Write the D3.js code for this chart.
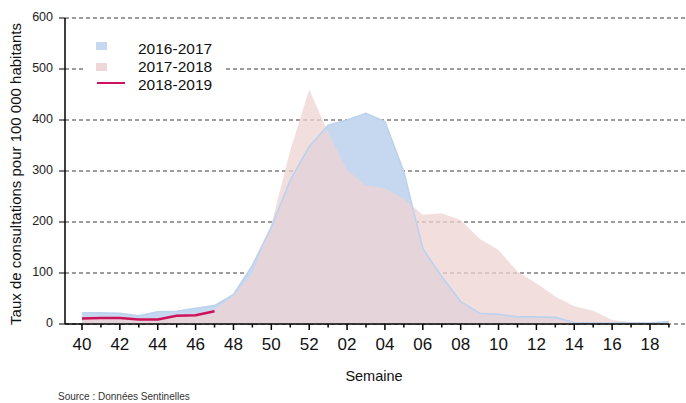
<!doctype html>
<html>
<head>
<meta charset="utf-8" />
<title>Taux de consultations - Semaine</title>
<style>
  html,body{margin:0;padding:0;background:#fff}
  svg{display:block;font-family:"Liberation Sans", Arial, sans-serif}
</style>
</head>
<body>
<svg id="chart" width="686" height="403"></svg>

<script src="https://cdn.jsdelivr.net/npm/d3@7"></script>
<script>
// ---- data ----
const weeks = ["40","41","42","43","44","45","46","47","48","49","50","51","52",
               "01","02","03","04","05","06","07","08","09","10","11","12","13",
               "14","15","16","17","18","19"];

const s1617 = [22,22,21,16,24,25,31,36,58,115,190,282,348,
               390,400,413,397,298,148,93,44,21,19,14,14,13,
               3,2,2,2,2,5];

const s1718 = [12,13,13,11,12,17,20,28,55,100,195,340,460,
               375,302,272,266,245,214,217,204,167,145,103,80,54,
               35,26,8,4,3,3];

const s1819 = [11,12,12,9,9,16,17,25];

const yTicks = [0,100,200,300,400,500,600];
const seasons = ["2016-2017","2017-2018","2018-2019"];

// ---- layout ----
const svg = d3.select('#chart');
const W = 686;
const x0 = 65, yBase = 324, yTop = 18;

const x = d3.scaleLinear().domain([0, 30]).range([82, 650]);
const y = d3.scaleLinear().domain([0, 600]).range([yBase, yTop]);

/* dashed gridlines */
svg.append('g').selectAll('line')
  .data(yTicks)
  .join('line')
  .attr('x1', x0).attr('x2', W)
  .attr('y1', d => y(d)).attr('y2', d => y(d))
  .attr('stroke', '#3a3a3a').attr('stroke-width', 1)
  .attr('stroke-dasharray', '4,3');

/* areas */
const area = d3.area()
  .x((d, i) => x(i))
  .y0(y(0))
  .y1(d => y(d));
const topLine = d3.line()
  .x((d, i) => x(i))
  .y(d => y(d));

svg.append('path').datum(s1617)
  .attr('d', area).attr('fill', '#c5d8f0');

svg.append('path').datum(s1718)
  .attr('d', area).attr('fill', '#efd3d3').attr('fill-opacity', 0.75);

svg.append('path').datum(s1617)
  .attr('d', topLine).attr('fill', 'none')
  .attr('stroke', '#bcd2ee').attr('stroke-width', 1.6);

svg.append('path').datum(s1819)
  .attr('d', topLine).attr('fill', 'none')
  .attr('stroke', '#cc1259').attr('stroke-width', 2.5)
  .attr('stroke-linejoin', 'round');

/* y axis */
const yAxis = svg.append('g').attr('transform', `translate(${x0},0)`);
yAxis.append('line')
  .attr('x1', 0).attr('x2', 0).attr('y1', y(600)).attr('y2', y(0))
  .attr('stroke', '#000').attr('stroke-width', 1.5);
yAxis.selectAll('.tk').data(yTicks).join('line')
  .attr('x1', -6).attr('x2', 0)
  .attr('y1', d => y(d)).attr('y2', d => y(d))
  .attr('stroke', '#000').attr('stroke-width', 1);
yAxis.selectAll('text').data(yTicks).join('text')
  .attr('x', -12).attr('y', d => y(d))
  .attr('text-anchor', 'end').attr('dominant-baseline', 'middle')
  .attr('font-size', 12.5).attr('fill', '#222')
  .text(d => d);

/* x axis */
const xAxis = svg.append('g');
xAxis.append('line')
  .attr('x1', x0).attr('x2', x(31)).attr('y1', yBase).attr('y2', yBase)
  .attr('stroke', '#000').attr('stroke-width', 1.5);
xAxis.selectAll('line.tk').data(weeks).join('line')
  .attr('class', 'tk')
  .attr('x1', (d, i) => x(i)).attr('x2', (d, i) => x(i))
  .attr('y1', yBase).attr('y2', (d, i) => yBase + (i % 2 === 0 ? 6 : 3.5))
  .attr('stroke', '#000').attr('stroke-width', 1.5);
xAxis.selectAll('text').data(weeks.filter((d, i) => i % 2 === 0)).join('text')
  .attr('x', (d, i) => x(i * 2)).attr('y', 350)
  .attr('text-anchor', 'middle')
  .attr('font-size', 17).attr('fill', '#111')
  .text(d => d);

/* axis titles */
svg.append('text')
  .attr('transform', 'translate(21,174) rotate(-90)')
  .attr('text-anchor', 'middle')
  .attr('font-size', 15).attr('fill', '#111')
  .text('Taux de consultations pour 100 000 habitants');

svg.append('text')
  .attr('x', 374).attr('y', 381)
  .attr('text-anchor', 'middle')
  .attr('font-size', 14.5).attr('fill', '#111')
  .text('Semaine');

svg.append('text')
  .attr('x', 58).attr('y', 400)
  .attr('font-size', 10).attr('fill', '#333')
  .text('Source : Données Sentinelles');

/* legend */
const lg = svg.append('g');
lg.append('rect')
  .attr('x', 84).attr('y', 34).attr('width', 140).attr('height', 62)
  .attr('fill', '#fff');
lg.append('rect').attr('x', 96).attr('y', 42).attr('width', 11).attr('height', 8)
  .attr('fill', '#c5d8f0');
lg.append('rect').attr('x', 96).attr('y', 63).attr('width', 11).attr('height', 8)
  .attr('fill', '#efd7d9');
lg.append('line').attr('x1', 97).attr('x2', 125).attr('y1', 83).attr('y2', 83)
  .attr('stroke', '#cc1259').attr('stroke-width', 2);
lg.selectAll('text').data(seasons).join('text')
  .attr('x', 138).attr('y', (d, i) => 54 + i * 18)
  .attr('font-size', 15.5).attr('fill', '#111')
  .text(d => d);
</script>
</body>
</html>
